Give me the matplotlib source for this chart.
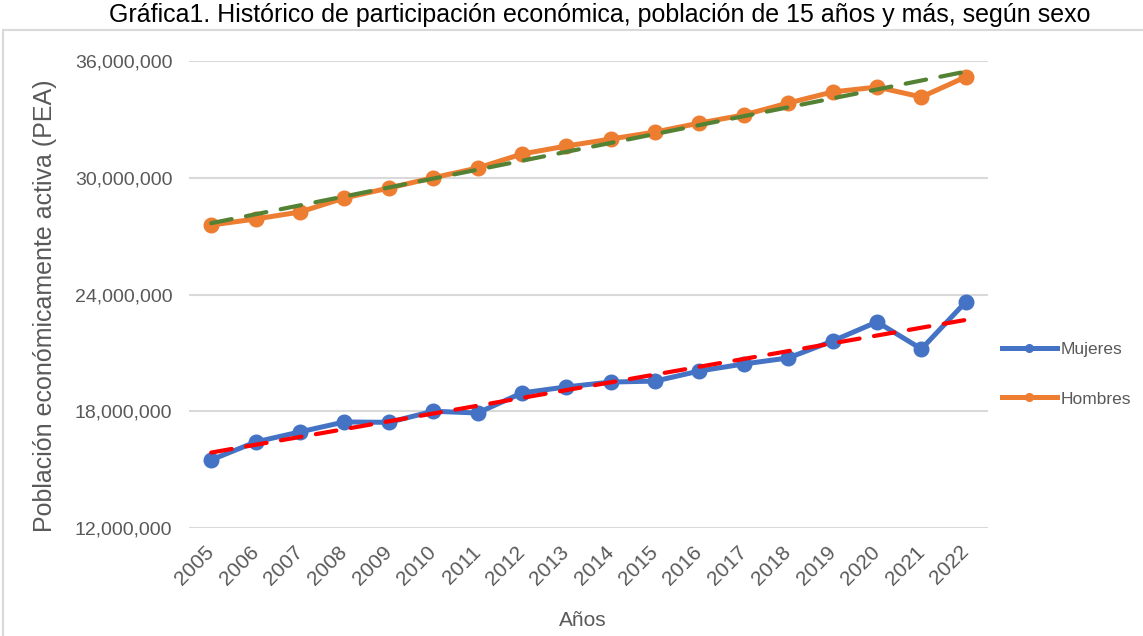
import matplotlib.pyplot as plt
import numpy as np
from matplotlib.patches import Rectangle
from matplotlib.ticker import FuncFormatter
from matplotlib.lines import Line2D

plt.rcParams['font.family'] = ['Liberation Sans', 'DejaVu Sans']

years = [str(y) for y in range(2005, 2023)]
mujeres = [15.50, 16.42, 16.94, 17.45, 17.43, 18.00, 17.91, 18.94, 19.25,
           19.50, 19.55, 20.07, 20.43, 20.74, 21.61, 22.59, 21.20, 23.62]
hombres = [27.57, 27.88, 28.24, 28.96, 29.47, 30.00, 30.50, 31.22, 31.63,
           31.99, 32.35, 32.81, 33.23, 33.84, 34.41, 34.66, 34.15, 35.18]
mujeres = [v * 1e6 for v in mujeres]
hombres = [v * 1e6 for v in hombres]
yticks = [12e6, 18e6, 24e6, 30e6, 36e6]

gray = '#595959'
blue = '#4472C4'
orange = '#ED7D31'

W, H = 1143, 636
fig = plt.figure(figsize=(W / 100, H / 100), dpi=100)
fig.subplots_adjust(left=189 / W, right=988 / W, top=1 - 61 / H, bottom=1 - 528 / H)
ax = fig.add_subplot(111)

# chart border
fig.patches.append(Rectangle((3 / W, -0.1), 1.2, 1 - 30 / H + 0.1, transform=fig.transFigure,
                             fill=False, edgecolor='#D9D9D9', linewidth=1.5))

x = np.arange(len(years))
ax.plot(x, mujeres, color=blue, lw=3.6, marker='o', ms=10.5, zorder=3)
ax.plot(x, hombres, color=orange, lw=3.6, marker='o', ms=10.5, zorder=3)

# linear trend lines
for vals, col in [(mujeres, '#FF0000'), (hombres, '#548235')]:
    k, b = np.polyfit(x, vals, 1)
    ax.plot(x, k * x + b, color=col, lw=3, ls=(0, (5, 3.5)), dash_capstyle='round', zorder=4)

ax.set_xlim(-0.5, len(years) - 0.5)
ax.set_ylim(12e6, 36e6)
ax.set_yticks(yticks)
ax.yaxis.set_major_formatter(FuncFormatter(lambda v, p: '{:,.0f}'.format(v)))
ax.set_xticks(x)
ax.set_xticklabels(years, rotation=45, ha='right', va='center', rotation_mode='anchor')
ax.tick_params(axis='both', length=0, colors=gray)
ax.tick_params(axis='y', pad=12, labelsize=14)
ax.tick_params(axis='x', pad=15, labelsize=15)
ax.grid(axis='y', color='#D9D9D9', lw=1.5)
ax.set_axisbelow(True)
for s in ax.spines.values():
    s.set_visible(False)

fig.text(45 / W, 1 - 306 / H, 'Población económicamente activa (PEA)', rotation=90,
         ha='center', va='center', fontsize=18, color=gray)
fig.text(583 / W, 1 - 620 / H, 'Años', ha='center', va='center', fontsize=15, color=gray)
fig.text(600 / W, 1 - 15 / H,
         'Gráfica1. Histórico de participación económica, población de 15 años y más, según sexo',
         ha='center', va='center', fontsize=18, color='black')

handles = [Line2D([], [], color=blue, lw=3.6, marker='o', ms=5.5),
           Line2D([], [], color=orange, lw=3.6, marker='o', ms=5.5)]
leg = fig.legend(handles, ['Mujeres', 'Hombres'], loc='center left',
                 bbox_to_anchor=(986 / W, 1 - 374 / H), frameon=False,
                 fontsize=12.5, labelspacing=2.0, handlelength=3.2, handletextpad=0.2)
for t in leg.get_texts():
    t.set_color(gray)

fig.savefig('out.png', dpi=100)
